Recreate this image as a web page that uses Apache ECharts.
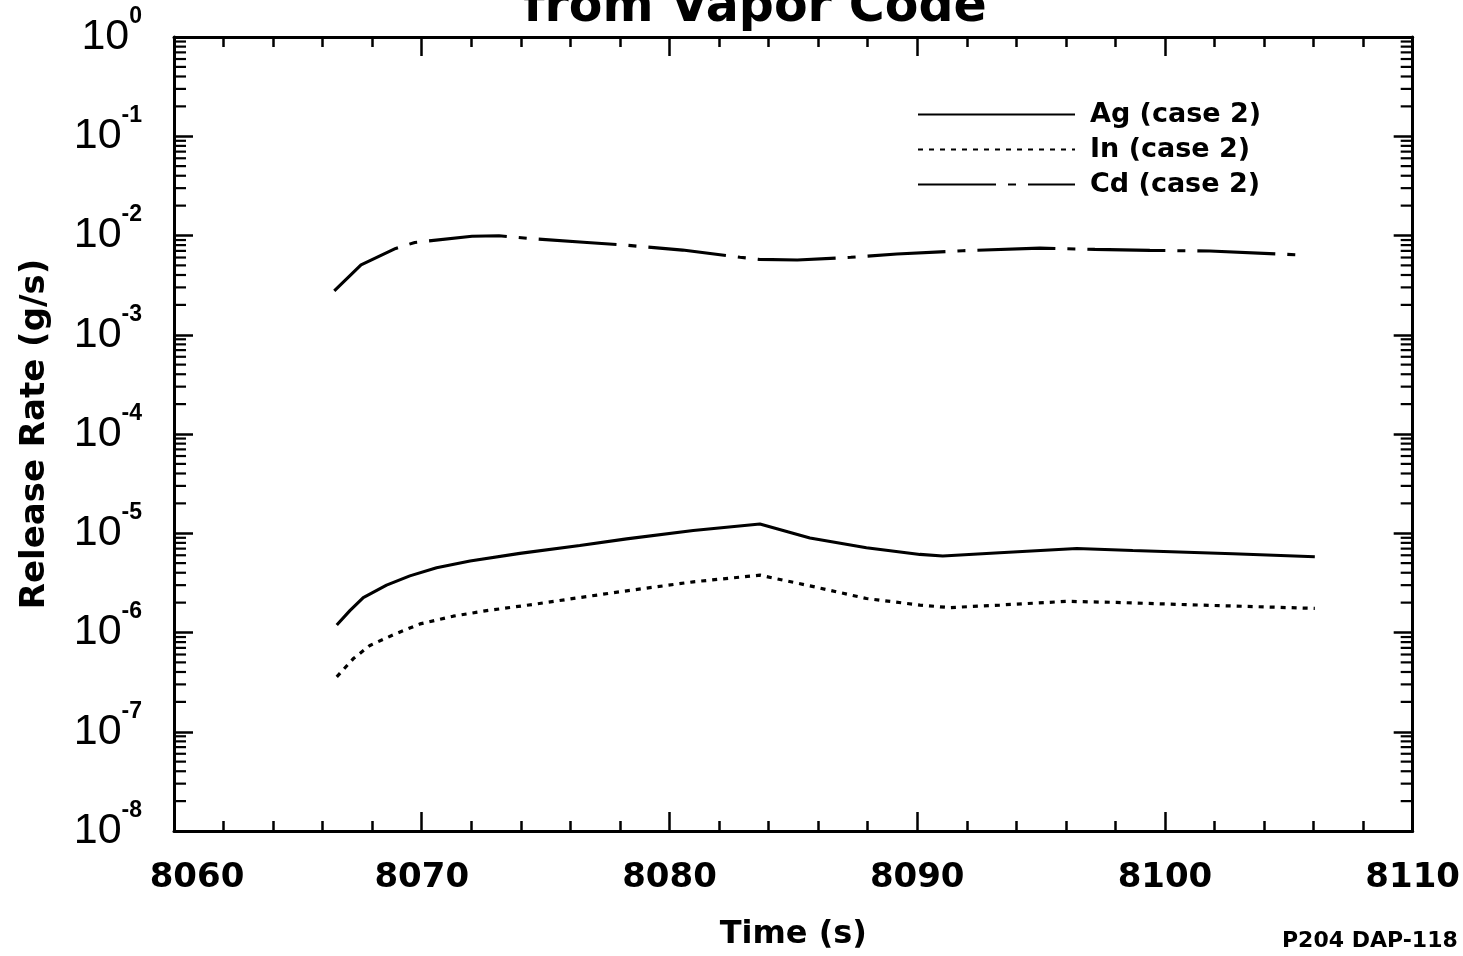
<!DOCTYPE html>
<html>
<head>
<meta charset="utf-8">
<title>Release Rate from Vapor Code</title>
<script src="https://cdn.jsdelivr.net/npm/echarts@6/dist/echarts.min.js"></script>
<style>
  html, body { margin: 0; padding: 0; background: #ffffff; overflow: hidden; }
  #chart { width: 1463px; height: 956px; }
</style>
</head>
<body>
<div id="chart"></div>
<script>
// Time axis (s)
const xMin = 8060;
const xMax = 8110;
const xTickLabels = [8060, 8070, 8080, 8090, 8100, 8110];

// Release-rate axis decades (log10 of g/s) and minor log steps
const yDecades = [-8, -7, -6, -5, -4, -3, -2, -1, 0];
const minorSteps = [2, 3, 4, 5, 6, 7, 8, 9];

// Ag (case 2)
const agTime = [8066.57, 8067.10, 8067.64, 8068.58, 8069.52, 8070.60, 8071.95, 8073.96, 8076.38, 8078.27,
                8080.96, 8083.65, 8085.67, 8087.95, 8090.11, 8091.03, 8093.33, 8096.44, 8098.70, 8102.74, 8106.05];
const agRate = [1.19e-6, 1.66e-6, 2.25e-6, 3.00e-6, 3.72e-6, 4.50e-6, 5.25e-6, 6.27e-6, 7.53e-6, 8.77e-6,
                1.064e-5, 1.24e-5, 8.97e-6, 7.13e-6, 6.12e-6, 5.89e-6, 6.35e-6, 7.03e-6, 6.71e-6, 6.21e-6, 5.79e-6];

// In (case 2)
const inTime = [8066.57, 8067.24, 8067.91, 8068.85, 8069.93, 8071.27, 8072.62, 8074.64, 8076.38, 8078.27,
                8080.96, 8083.65, 8085.67, 8087.95, 8090.11, 8091.32, 8093.33, 8096.04, 8098.05, 8101.40, 8106.05];
const inRate = [3.57e-7, 5.46e-7, 7.41e-7, 9.48e-7, 1.22e-6, 1.46e-6, 1.66e-6, 1.94e-6, 2.25e-6, 2.63e-6,
                3.24e-6, 3.78e-6, 2.95e-6, 2.20e-6, 1.89e-6, 1.78e-6, 1.89e-6, 2.06e-6, 2.01e-6, 1.89e-6, 1.75e-6];

// Cd (case 2)
const cdTime = [8066.47, 8067.55, 8068.95, 8069.72, 8072.03, 8073.12, 8074.35, 8076.67, 8078.21, 8080.53,
                8082.85, 8083.62, 8085.16, 8087.32, 8089.18, 8091.84, 8094.95, 8097.17, 8099.39, 8101.81, 8105.64];
const cdRate = [2.77e-3, 5.05e-3, 7.41e-3, 8.51e-3, 9.84e-3, 9.93e-3, 9.33e-3, 8.51e-3, 8.00e-3, 7.13e-3,
                6.03e-3, 5.75e-3, 5.66e-3, 6.03e-3, 6.50e-3, 7.03e-3, 7.46e-3, 7.24e-3, 7.08e-3, 6.97e-3, 6.35e-3];

const seriesNames = ['Ag (case 2)', 'In (case 2)', 'Cd (case 2)'];

const pair = (xs, ys) => xs.map((x, i) => [x, ys[i]]);

// minor log ticks (2..9 x 10^n) drawn on both vertical frame edges
const minorTickValues = [];
yDecades.slice(0, -1).forEach(d => minorSteps.forEach(k => minorTickValues.push([xMin, k * Math.pow(10, d)])));

const INK = '#000000';
const boldFont = 'DejaVu Sans';

const chart = echarts.init(document.getElementById('chart'), null, { renderer: 'canvas' });

const xAxisBase = {
  type: 'value',
  min: xMin,
  max: xMax,
  interval: 10,
  axisLine: { show: true, onZero: false, lineStyle: { color: INK, width: 3 } },
  axisTick: { show: true, inside: true, length: 19, lineStyle: { color: INK, width: 2.5 } },
  minorTick: { show: true, splitNumber: 5, length: 10, lineStyle: { color: INK, width: 2.5 } },
  splitLine: { show: false },
  minorSplitLine: { show: false }
};

const yAxisBase = {
  type: 'log',
  logBase: 10,
  min: Math.pow(10, yDecades[0]),
  max: Math.pow(10, yDecades[yDecades.length - 1]),
  splitNumber: 8,
  axisLine: { show: true, onZero: false, lineStyle: { color: INK, width: 3 } },
  axisTick: { show: true, inside: true, length: 19, lineStyle: { color: INK, width: 2.5 } },
  splitLine: { show: false }
};

const xLabelStyle = { color: INK, fontFamily: boldFont, fontWeight: 'bold', fontSize: 34 };

const option = {
  backgroundColor: '#ffffff',
  animation: false,
  grid: { left: 174, width: 1239, top: 37, height: 800, containLabel: false },
  graphic: [
    {
      type: 'text', x: 755, y: 8,
      style: { text: 'from Vapor Code', fill: INK, font: 'bold 49px "DejaVu Sans"', align: 'center', verticalAlign: 'middle' }
    },
    {
      type: 'text', x: 1282, y: 941,
      style: { text: 'P204 DAP-118', fill: INK, font: 'bold 22px "DejaVu Sans"', align: 'left', verticalAlign: 'middle' }
    }
  ],
  legend: {
    data: seriesNames,
    orient: 'vertical',
    left: 912,
    top: 96,
    itemWidth: 157,
    itemHeight: 20,
    itemGap: 8,
    selectedMode: false,
    itemStyle: { opacity: 0 },
    textStyle: { color: INK, fontFamily: boldFont, fontWeight: 'bold', fontSize: 27, padding: [0, 0, 0, 10] }
  },
  xAxis: [
    Object.assign({}, xAxisBase, {
      position: 'bottom',
      name: 'Time (s)',
      nameLocation: 'middle',
      nameGap: 88,
      nameTextStyle: { color: INK, fontFamily: boldFont, fontWeight: 'bold', fontSize: 32 },
      axisLabel: Object.assign({
        show: true, margin: 30,
        // the first label sits a little to the right of the frame corner
        formatter: v => (v === xMin ? '{first|' + v + '}' : '{n|' + v + '}'),
        rich: {
          n: xLabelStyle,
          first: Object.assign({ padding: [0, 0, 0, 46] }, xLabelStyle)
        },
        customValues: xTickLabels
      }, xLabelStyle)
    }),
    Object.assign({}, xAxisBase, { position: 'top', axisLabel: { show: false } })
  ],
  yAxis: [
    Object.assign({}, yAxisBase, {
      position: 'left',
      name: 'Release Rate (g/s)',
      nameLocation: 'middle',
      nameGap: 122,
      nameTextStyle: { color: INK, fontFamily: boldFont, fontWeight: 'bold', fontSize: 34 },
      axisLabel: {
        show: true,
        margin: 32,
        formatter: v => '{b|10}{e|' + Math.round(Math.log10(v)) + '}',
        rich: {
          b: { fontFamily: 'Liberation Sans', fontSize: 43, color: INK, lineHeight: 64, verticalAlign: 'middle' },
          e: { fontFamily: 'Liberation Sans', fontWeight: 'bold', fontSize: 23, color: INK, lineHeight: 22, verticalAlign: 'top' }
        }
      }
    }),
    Object.assign({}, yAxisBase, { position: 'right', axisLabel: { show: false } })
  ],
  series: [
    {
      name: seriesNames[0], type: 'line', data: pair(agTime, agRate),
      symbol: 'none', smooth: false, xAxisIndex: 0, yAxisIndex: 0,
      lineStyle: { color: INK, width: 3.1, type: 'solid' }, itemStyle: { color: INK }
    },
    {
      name: seriesNames[1], type: 'line', data: pair(inTime, inRate),
      symbol: 'none', smooth: false, xAxisIndex: 0, yAxisIndex: 0,
      lineStyle: { color: INK, width: 3.2, type: [5, 6] }, itemStyle: { color: INK }
    },
    {
      name: seriesNames[2], type: 'line', data: pair(cdTime, cdRate),
      symbol: 'none', smooth: false, xAxisIndex: 0, yAxisIndex: 0,
      lineStyle: { color: INK, width: 3.1, type: [78, 12, 8, 12] }, itemStyle: { color: INK }
    },
    {
      // minor log ticks on left and right frame edges
      type: 'custom', name: 'minorTicks', silent: true,
      xAxisIndex: 0, yAxisIndex: 0,
      data: minorTickValues,
      encode: { x: 0, y: 1 },
      renderItem: (params, api) => {
        const v = api.value(1);
        const pl = api.coord([xMin, v]);
        const pr = api.coord([xMax, v]);
        const st = { stroke: INK, lineWidth: 2.2 };
        return {
          type: 'group',
          children: [
            { type: 'line', shape: { x1: pl[0], y1: pl[1], x2: pl[0] + 12, y2: pl[1] }, style: st },
            { type: 'line', shape: { x1: pr[0] - 12, y1: pr[1], x2: pr[0], y2: pr[1] }, style: st }
          ]
        };
      }
    }
  ]
};

chart.setOption(option);
</script>
</body>
</html>
